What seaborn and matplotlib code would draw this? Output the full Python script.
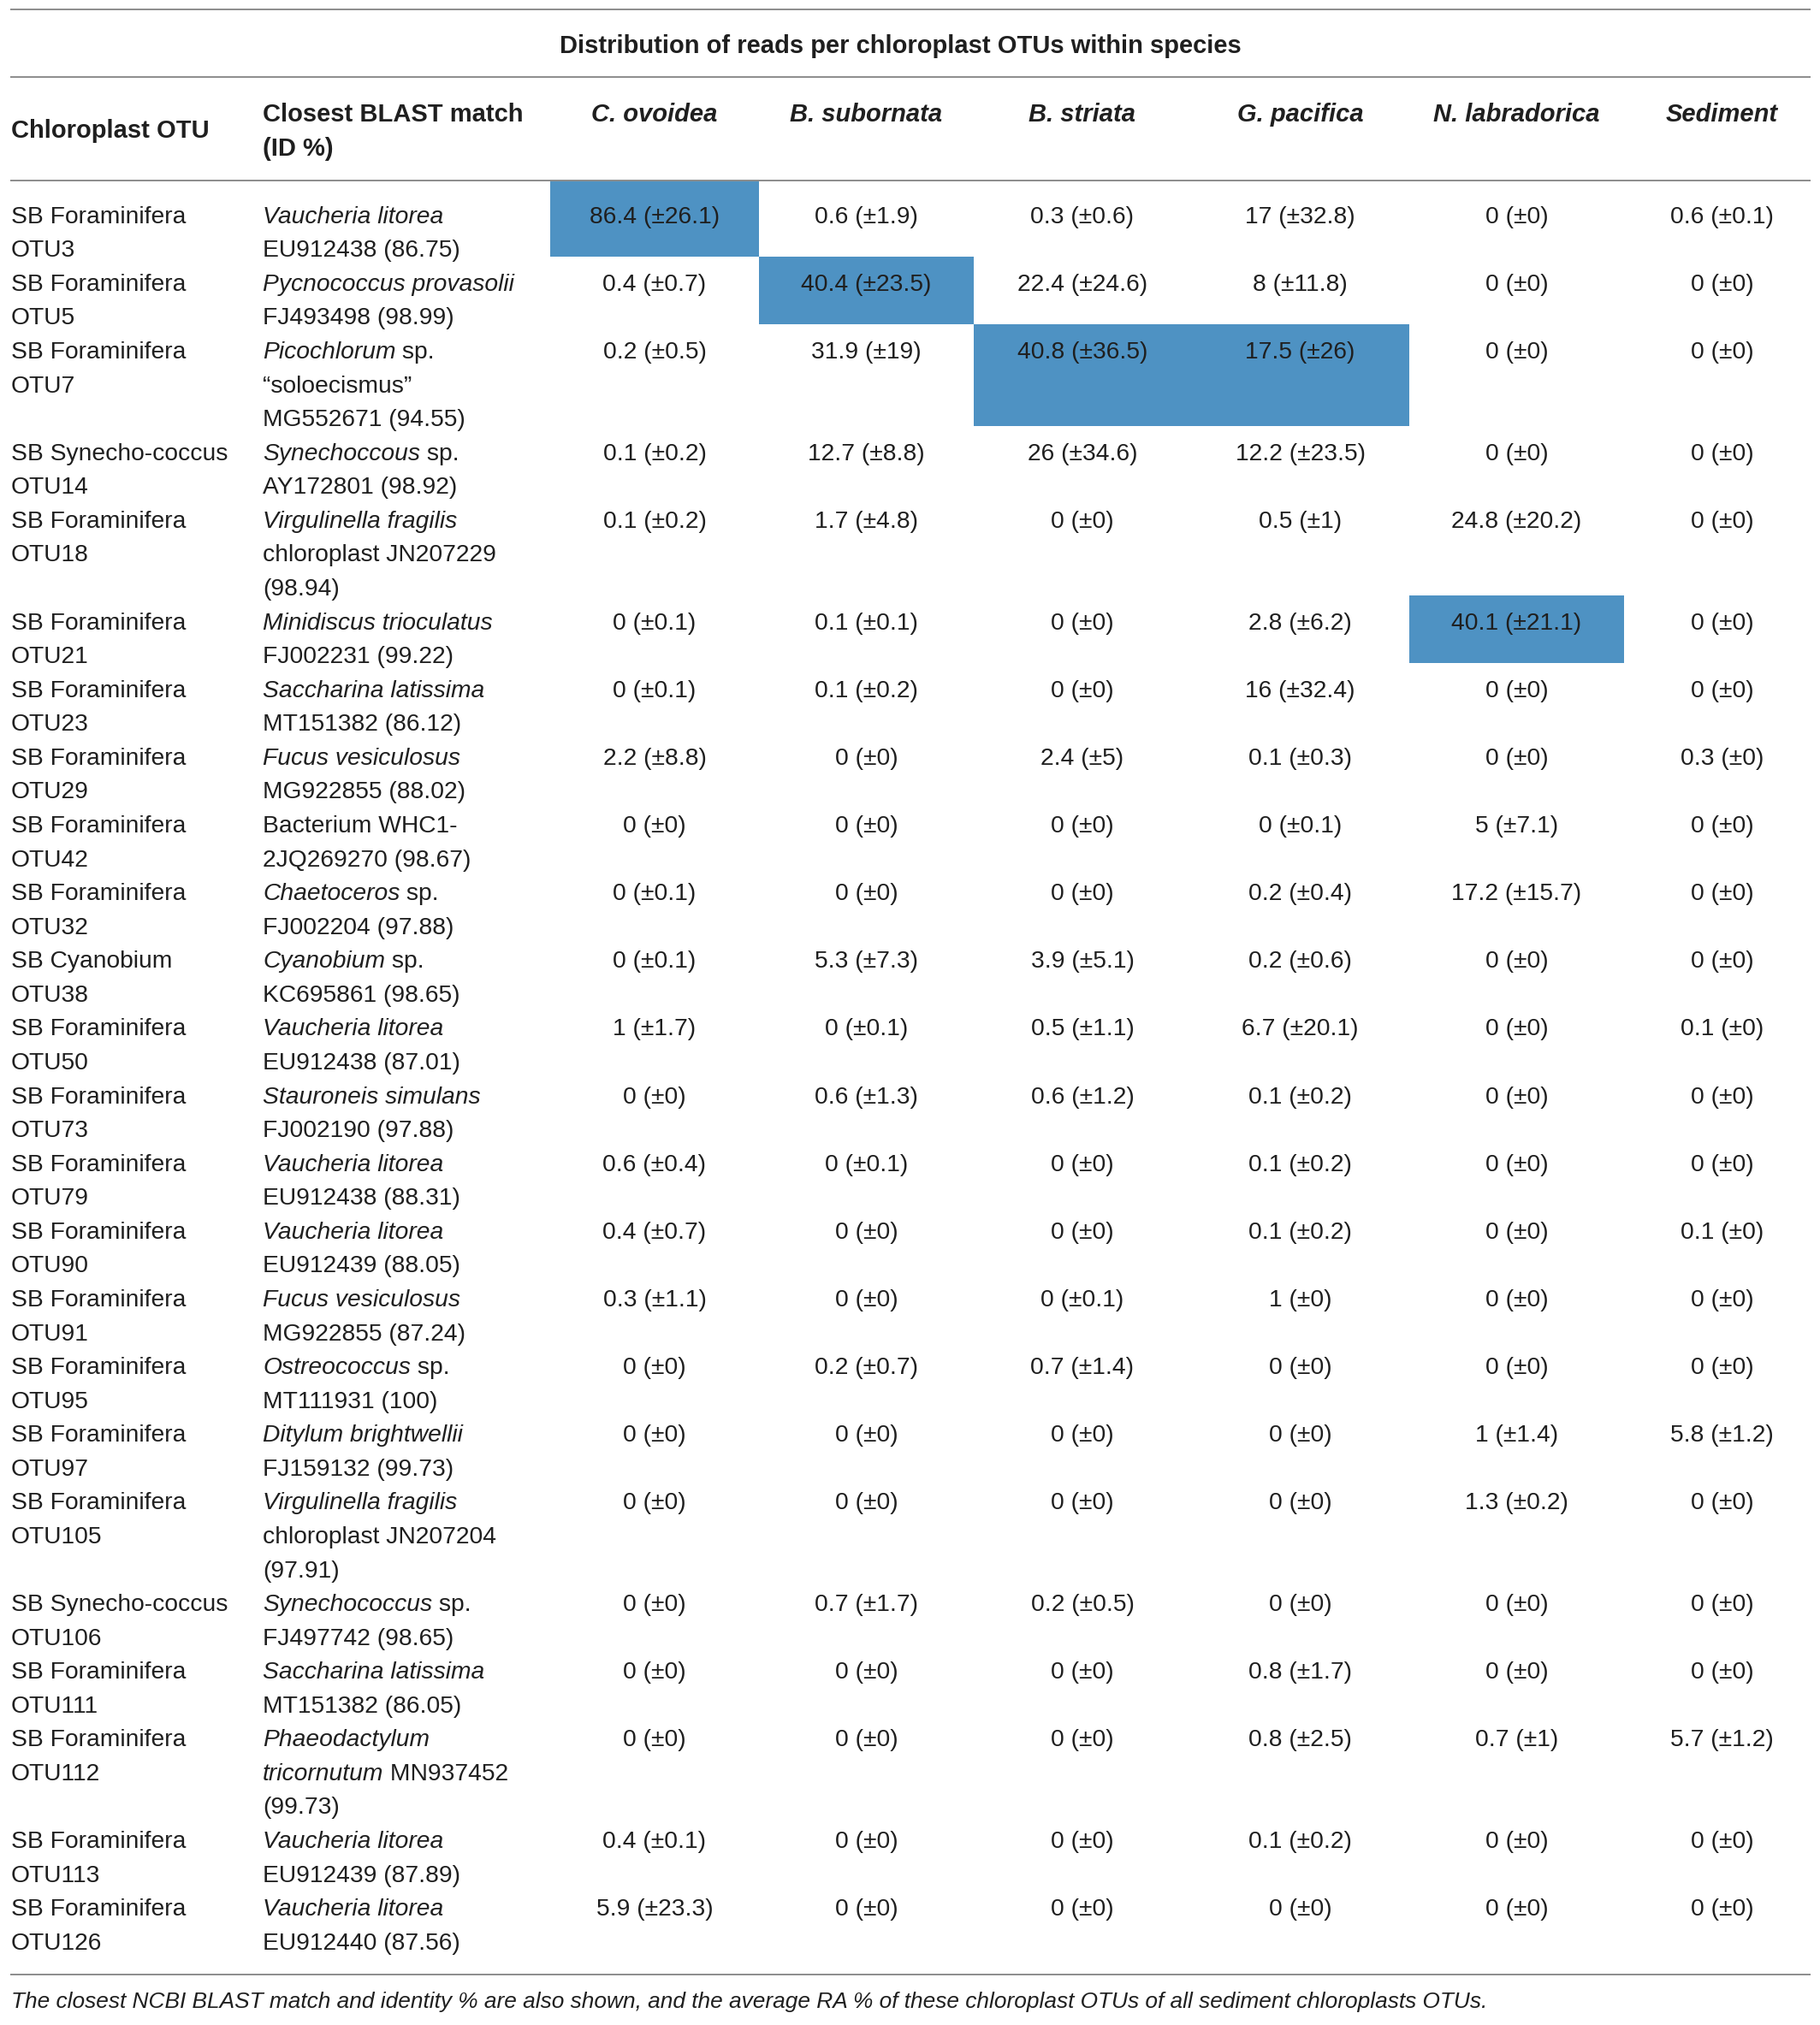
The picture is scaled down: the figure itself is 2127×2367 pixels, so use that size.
import pandas as pd
import matplotlib.pyplot as plt
import seaborn as sns

# ---- table content ----
title = "Distribution of reads per chloroplast OTUs within species"
caption = ("The closest NCBI BLAST match and identity % are also shown, and the average RA % "
           "of these chloroplast OTUs of all sediment chloroplasts OTUs.")
header_otu = "Chloroplast OTU"
header_blast = ["Closest BLAST match", "(ID %)"]

otu_group = ["SB Foraminifera", "SB Foraminifera", "SB Foraminifera", "SB Synecho-coccus",
             "SB Foraminifera", "SB Foraminifera", "SB Foraminifera", "SB Foraminifera",
             "SB Foraminifera", "SB Foraminifera", "SB Cyanobium", "SB Foraminifera",
             "SB Foraminifera", "SB Foraminifera", "SB Foraminifera", "SB Foraminifera",
             "SB Foraminifera", "SB Foraminifera", "SB Foraminifera", "SB Synecho-coccus",
             "SB Foraminifera", "SB Foraminifera", "SB Foraminifera", "SB Foraminifera"]
otu_id = ["OTU3", "OTU5", "OTU7", "OTU14", "OTU18", "OTU21", "OTU23", "OTU29", "OTU42",
          "OTU32", "OTU38", "OTU50", "OTU73", "OTU79", "OTU90", "OTU91", "OTU95", "OTU97",
          "OTU105", "OTU106", "OTU111", "OTU112", "OTU113", "OTU126"]

# *text* = italic part
blast_match = [
    ["*Vaucheria litorea*", "EU912438 (86.75)"],
    ["*Pycnococcus provasolii*", "FJ493498 (98.99)"],
    ["*Picochlorum* sp.", "\u201csoloecismus\u201d", "MG552671 (94.55)"],
    ["*Synechoccous* sp.", "AY172801 (98.92)"],
    ["*Virgulinella fragilis*", "chloroplast JN207229", "(98.94)"],
    ["*Minidiscus trioculatus*", "FJ002231 (99.22)"],
    ["*Saccharina latissima*", "MT151382 (86.12)"],
    ["*Fucus vesiculosus*", "MG922855 (88.02)"],
    ["Bacterium WHC1-", "2JQ269270 (98.67)"],
    ["*Chaetoceros* sp.", "FJ002204 (97.88)"],
    ["*Cyanobium* sp.", "KC695861 (98.65)"],
    ["*Vaucheria litorea*", "EU912438 (87.01)"],
    ["*Stauroneis simulans*", "FJ002190 (97.88)"],
    ["*Vaucheria litorea*", "EU912438 (88.31)"],
    ["*Vaucheria litorea*", "EU912439 (88.05)"],
    ["*Fucus vesiculosus*", "MG922855 (87.24)"],
    ["*Ostreococcus* sp.", "MT111931 (100)"],
    ["*Ditylum brightwellii*", "FJ159132 (99.73)"],
    ["*Virgulinella fragilis*", "chloroplast JN207204", "(97.91)"],
    ["*Synechococcus* sp.", "FJ497742 (98.65)"],
    ["*Saccharina latissima*", "MT151382 (86.05)"],
    ["*Phaeodactylum*", "*tricornutum* MN937452", "(99.73)"],
    ["*Vaucheria litorea*", "EU912439 (87.89)"],
    ["*Vaucheria litorea*", "EU912440 (87.56)"],
]

species = ["C. ovoidea", "B. subornata", "B. striata", "G. pacifica", "N. labradorica", "Sediment"]

c_ovoidea_mean = [86.4, 0.4, 0.2, 0.1, 0.1, 0, 0, 2.2, 0, 0, 0, 1, 0, 0.6, 0.4, 0.3, 0, 0, 0, 0, 0, 0, 0.4, 5.9]
c_ovoidea_sd = [26.1, 0.7, 0.5, 0.2, 0.2, 0.1, 0.1, 8.8, 0, 0.1, 0.1, 1.7, 0, 0.4, 0.7, 1.1, 0, 0, 0, 0, 0, 0, 0.1, 23.3]
b_subornata_mean = [0.6, 40.4, 31.9, 12.7, 1.7, 0.1, 0.1, 0, 0, 0, 5.3, 0, 0.6, 0, 0, 0, 0.2, 0, 0, 0.7, 0, 0, 0, 0]
b_subornata_sd = [1.9, 23.5, 19, 8.8, 4.8, 0.1, 0.2, 0, 0, 0, 7.3, 0.1, 1.3, 0.1, 0, 0, 0.7, 0, 0, 1.7, 0, 0, 0, 0]
b_striata_mean = [0.3, 22.4, 40.8, 26, 0, 0, 0, 2.4, 0, 0, 3.9, 0.5, 0.6, 0, 0, 0, 0.7, 0, 0, 0.2, 0, 0, 0, 0]
b_striata_sd = [0.6, 24.6, 36.5, 34.6, 0, 0, 0, 5, 0, 0, 5.1, 1.1, 1.2, 0, 0, 0.1, 1.4, 0, 0, 0.5, 0, 0, 0, 0]
g_pacifica_mean = [17, 8, 17.5, 12.2, 0.5, 2.8, 16, 0.1, 0, 0.2, 0.2, 6.7, 0.1, 0.1, 0.1, 1, 0, 0, 0, 0, 0.8, 0.8, 0.1, 0]
g_pacifica_sd = [32.8, 11.8, 26, 23.5, 1, 6.2, 32.4, 0.3, 0.1, 0.4, 0.6, 20.1, 0.2, 0.2, 0.2, 0, 0, 0, 0, 0, 1.7, 2.5, 0.2, 0]
n_labradorica_mean = [0, 0, 0, 0, 24.8, 40.1, 0, 0, 5, 17.2, 0, 0, 0, 0, 0, 0, 0, 1, 1.3, 0, 0, 0.7, 0, 0]
n_labradorica_sd = [0, 0, 0, 0, 20.2, 21.1, 0, 0, 7.1, 15.7, 0, 0, 0, 0, 0, 0, 0, 1.4, 0.2, 0, 0, 1, 0, 0]
sediment_mean = [0.6, 0, 0, 0, 0, 0, 0, 0.3, 0, 0, 0, 0.1, 0, 0, 0.1, 0, 0, 5.8, 0, 0, 0, 5.7, 0, 0]
sediment_sd = [0.1, 0, 0, 0, 0, 0, 0, 0, 0, 0, 0, 0, 0, 0, 0, 0, 0, 1.2, 0, 0, 0, 1.2, 0, 0]

highlight = [("OTU3", "C. ovoidea"), ("OTU5", "B. subornata"), ("OTU7", "B. striata"),
             ("OTU7", "G. pacifica"), ("OTU21", "N. labradorica")]

means = pd.DataFrame(dict(zip(species, [c_ovoidea_mean, b_subornata_mean, b_striata_mean,
                                         g_pacifica_mean, n_labradorica_mean, sediment_mean])),
                     index=otu_id)
sds = pd.DataFrame(dict(zip(species, [c_ovoidea_sd, b_subornata_sd, b_striata_sd,
                                       g_pacifica_sd, n_labradorica_sd, sediment_sd])),
                   index=otu_id)

# ---- style ----
sns.set_theme(style="white")
plt.rcParams["font.family"] = ["Liberation Sans", "DejaVu Sans"]
TXT = "#1f1f1f"
RULE = "#8c8c8c"
BLUE = "#4e92c3"
FS = 20.3
FS_BOLD = 21
FS_CAP = 18.9

W, H = 2127, 2367
fig = plt.figure(figsize=(W / 100, H / 100), dpi=100)
ax = fig.add_axes([0, 0, 1, 1])
ax.set_xlim(0, W)
ax.set_ylim(H, 0)
ax.axis("off")
renderer = fig.canvas.get_renderer()

x_left, x_right = 12, 2116
x_otu, x_blast = 13, 307
col_edges = [643, 887, 1138, 1392, 1647, 1898, 2127]
line_h = 39.57
y_rule_top, y_title, y_rule_mid = 10.5, 54, 90
y_head1, y_head_otu, y_rule_head = 134, 153, 210.7
first_top = 220.7
text_off = 33


def rich_line(x, y, line, **kw):
    # draw a line where *...* parts are italic
    for k, part in enumerate(line.split("*")):
        if not part:
            continue
        t = ax.text(x, y, part, style="italic" if k % 2 else "normal",
                    ha="left", va="center", **kw)
        x += t.get_window_extent(renderer).width


# rules
ax.hlines([y_rule_top, y_rule_mid, y_rule_head], x_left, x_right, color=RULE, lw=1.4)

# title and headers
ax.text((x_left + x_right) / 2 - 12, y_title, title, ha="center", va="center",
        fontsize=FS_BOLD, fontweight="bold", color=TXT)
ax.text(x_otu, y_head_otu, header_otu, ha="left", va="center",
        fontsize=FS_BOLD, fontweight="bold", color=TXT)
for k, h in enumerate(header_blast):
    ax.text(x_blast, y_head1 + k * line_h, h, ha="left", va="center",
            fontsize=FS_BOLD, fontweight="bold", color=TXT)
centers = [(col_edges[i] + col_edges[i + 1]) / 2 for i in range(len(species))]
for sp, cx in zip(species, centers):
    ax.text(cx, y_head1, sp, ha="center", va="center", fontsize=FS_BOLD,
            fontweight="bold", style="italic", color=TXT)

# rows
n_lines = [max(2, len(b)) for b in blast_match]
row_tops = []
top = first_top
for n in n_lines:
    row_tops.append(top)
    top += n * line_h
rows_bottom = top

# highlighted cells
for otu, sp in highlight:
    i = otu_id.index(otu)
    j = species.index(sp)
    cell_top = y_rule_head if i == 0 else row_tops[i]
    cell_bot = row_tops[i] + n_lines[i] * line_h
    ax.bar(col_edges[j], cell_bot - cell_top, bottom=cell_top,
           width=col_edges[j + 1] - col_edges[j], align="edge",
           color=BLUE, linewidth=0, zorder=0)

for i, otu in enumerate(otu_id):
    y0 = row_tops[i] + text_off
    ax.text(x_otu, y0, otu_group[i], ha="left", va="center", fontsize=FS, color=TXT)
    ax.text(x_otu, y0 + line_h, otu, ha="left", va="center", fontsize=FS, color=TXT)
    for k, line in enumerate(blast_match[i]):
        rich_line(x_blast, y0 + k * line_h, line, fontsize=FS, color=TXT)
    for sp, cx in zip(species, centers):
        m, s = means.loc[otu, sp], sds.loc[otu, sp]
        ax.text(cx, y0, f"{m:g} (\u00b1{s:g})", ha="center", va="center",
                fontsize=FS, color=TXT)

y_rule_bot = rows_bottom + 30
ax.hlines(y_rule_bot, x_left, x_right, color=RULE, lw=1.4)
ax.text(x_otu, y_rule_bot + 32, caption, ha="left", va="center", fontsize=FS_CAP,
        style="italic", color=TXT)

fig.savefig("out.png", dpi=100)
plt.close(fig)
